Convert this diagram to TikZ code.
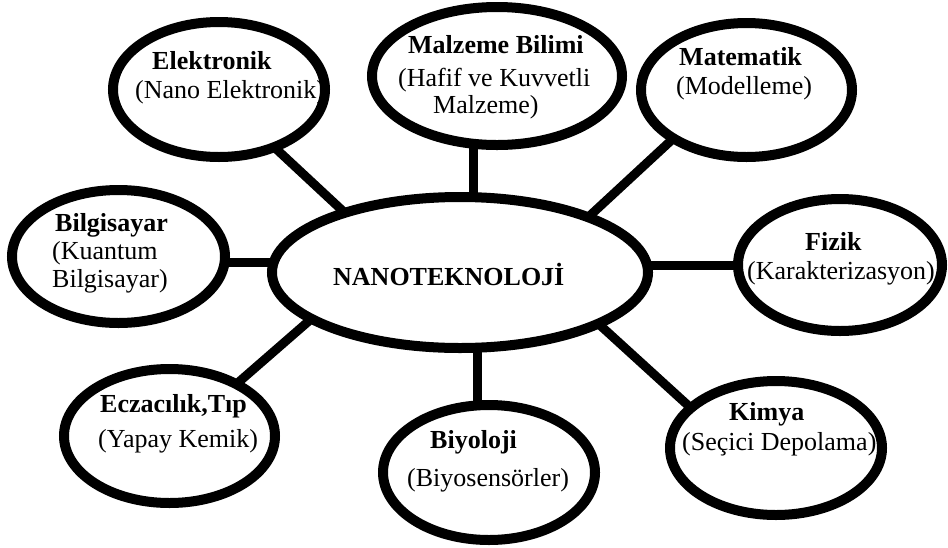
\documentclass[tikz,border=0pt]{standalone}
\usepackage{fontspec}
\setmainfont{Liberation Serif}
\usetikzlibrary{shapes.geometric,backgrounds}
\begin{document}
\begin{tikzpicture}[x=1pt,y=-1pt,
  bubble/.style={ellipse,draw=black,fill=white,line width=10pt,inner sep=0pt},
  ttl/.style={anchor=base west,inner sep=0pt,font=\fontsize{26}{29}\selectfont\bfseries},
  sub/.style={anchor=base west,inner sep=0pt,font=\fontsize{26}{29}\selectfont},
  link/.style={line width=9pt,shorten <=-4pt,shorten >=-4pt}]
\useasboundingbox (0,0) rectangle (948,547);
% ellipses
\node[bubble,minimum width=376pt,minimum height=151pt] (cen) at (460,272.5) {};
\node[bubble,minimum width=212pt,minimum height=135pt] (elek) at (219,89.5) {};
\node[bubble,minimum width=250pt,minimum height=138pt] (malz) at (497,76) {};
\node[bubble,minimum width=211pt,minimum height=134pt] (mate) at (746.5,90) {};
\node[bubble,minimum width=213pt,minimum height=133pt] (bilg) at (118.5,256.5) {};
\node[bubble,minimum width=204pt,minimum height=132pt] (fiz) at (840,265) {};
\node[bubble,minimum width=211pt,minimum height=134pt] (ecz) at (169.5,436) {};
\node[bubble,minimum width=212pt,minimum height=135pt] (biyo) at (489,472.5) {};
\node[bubble,minimum width=212pt,minimum height=134pt] (kim) at (776,448) {};
% texts
\node[ttl] (cenT) at (333,285) {NANOTEKNOLOJİ};
\node[ttl] (elekT) at (152,69) {Elektronik};
\node[sub] (elekS) at (135,98) {(Nano Elektronik)};
\node[ttl] (malzT) at (408,53) {Malzeme Bilimi};
\node[sub] (malzS) at (398,86) {(Hafif ve Kuvvetli};
\node[sub] (malzS2) at (433,113) {Malzeme)};
\node[ttl] (mateT) at (679,65) {Matematik};
\node[sub] (mateS) at (676,94) {(Modelleme)};
\node[ttl] (bilgT) at (55,231) {Bilgisayar};
\node[sub] (bilgS) at (52,259) {(Kuantum};
\node[sub] (bilgS2) at (52,287) {Bilgisayar)};
\node[ttl] (fizT) at (805,250) {Fizik};
\node[sub] (fizS) at (747,279) {(Karakterizasyon)};
\node[ttl] (eczT) at (100,412) {Eczacılık,Tıp};
\node[sub] (eczS) at (98,447) {(Yapay Kemik)};
\node[ttl] (biyoT) at (430,448) {Biyoloji};
\node[sub] (biyoS) at (407,486) {(Biyosensörler)};
\node[ttl] (kimT) at (729,420) {Kimya};
\node[sub] (kimS) at (682,450) {(Seçici Depolama)};
% connectors
\begin{pgfonlayer}{background}
\draw[link] (elek.-46.2) -- (cen.152.5);
\draw[link] (malz.-108.3) -- (malz.-108.3 |- cen.north);
\draw[link] (mate.-146.5) -- (cen.24.4);
\draw[link] (bilg.-3.4) -- (bilg.-3.4 -| cen.west);
\draw[link] (fiz.180) -- (fiz.180 -| cen.east);
\draw[link] (ecz.38.5) -- (cen.-162.75);
\draw[link] (biyo.99.4) -- (biyo.99.4 |- cen.south);
\draw[link] (kim.154.5) -- (cen.-21.8);
\end{pgfonlayer}
\end{tikzpicture}
\end{document}
